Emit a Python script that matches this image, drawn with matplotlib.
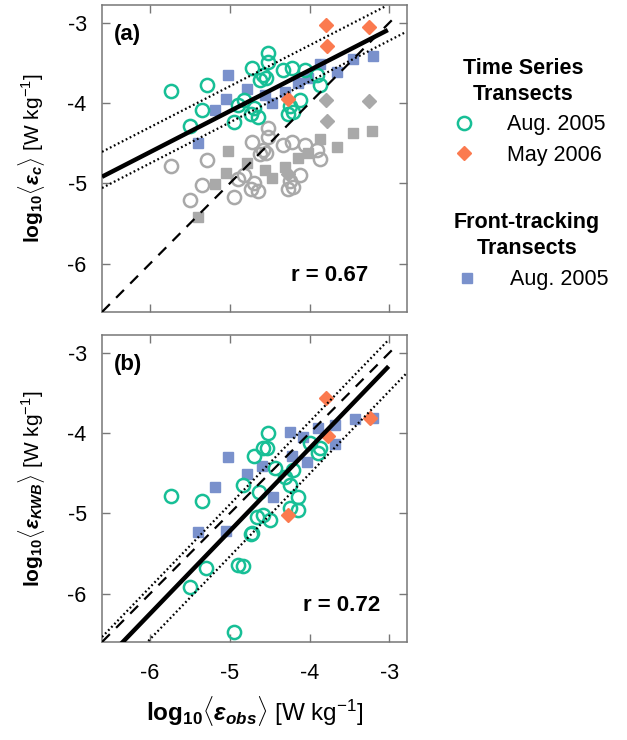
import numpy as np
import matplotlib
matplotlib.use("Agg")
import matplotlib.pyplot as plt
from matplotlib.lines import Line2D

plt.rcParams['font.family'] = ['Liberation Sans', 'DejaVu Sans']
plt.rcParams['axes.unicode_minus'] = False
plt.rcParams['mathtext.fontset'] = 'custom'
plt.rcParams['mathtext.rm'] = 'Liberation Sans'
plt.rcParams['mathtext.it'] = 'Liberation Sans:italic'
plt.rcParams['mathtext.bf'] = 'Liberation Sans:bold'
plt.rcParams['mathtext.bfit'] = 'Liberation Sans:bold:italic'

# ===== data (log10 values) =====
# panel (a): corrected model vs observed
ts_aug_x_a = [-5.74, -5.29, -5.35, -5.50, -4.95, -4.72, -4.52, -4.52, -4.58, -4.62,
              -4.55, -4.90, -4.82, -4.70, -4.64, -4.33, -4.22, -4.06, -3.91, -3.87,
              -4.24, -4.21, -4.12, -4.27, -4.74]
ts_aug_y_a = [-3.85, -3.78, -4.09, -4.28, -4.24, -3.56, -3.38, -3.49, -3.65, -3.71,
              -3.69, -4.02, -3.96, -4.06, -4.17, -3.59, -3.56, -3.59, -3.65, -3.77,
              -4.04, -4.11, -3.96, -4.14, -4.14]
ts_may_x_a = [-3.80, -3.26, -3.78, -4.27]
ts_may_y_a = [-3.03, -3.05, -3.29, -3.95]
ft_aug_x_a = [-5.02, -4.79, -5.05, -5.19, -5.40, -3.46, -3.20, -3.66, -3.87, -4.02,
              -4.47, -4.14, -4.31, -4.56]
ft_aug_y_a = [-3.65, -3.82, -3.95, -4.09, -4.50, -3.45, -3.41, -3.62, -3.52, -3.69,
              -4.00, -3.75, -3.86, -3.90]

# panel (a): uncorrected model (grey)
raw_circ_x = [-5.74, -5.29, -5.35, -5.50, -4.95, -4.72, -4.52, -4.52, -4.58, -4.62,
              -4.55, -4.90, -4.82, -4.70, -4.64, -4.33, -4.22, -4.06, -3.91, -3.87,
              -4.24, -4.21, -4.12, -4.27, -4.74]
raw_circ_y = [-4.78, -4.71, -5.02, -5.21, -5.17, -4.49, -4.31, -4.42, -4.58, -4.64,
              -4.62, -4.95, -4.89, -4.99, -5.10, -4.52, -4.49, -4.52, -4.58, -4.70,
              -4.97, -5.04, -4.89, -5.07, -5.07]
raw_diam_x = [-3.80, -3.26, -3.78, -4.27]
raw_diam_y = [-3.96, -3.98, -4.22, -4.88]
raw_sq_x = [-5.02, -4.79, -5.05, -5.19, -5.40, -3.46, -3.22, -3.66, -3.87, -4.02,
            -4.47, -4.14, -4.31, -4.56]
raw_sq_y = [-4.60, -4.75, -4.87, -5.01, -5.42, -4.37, -4.35, -4.55, -4.45, -4.62,
            -4.93, -4.68, -4.79, -4.83]

# panel (b): KWB model vs observed
ts_aug_x_b = [-5.73, -5.35, -4.52, -4.58, -4.70, -4.84, -4.63, -4.66, -4.73, -5.30,
              -5.50, -4.90, -4.84, -4.95, -4.00, -3.87, -3.90, -4.21, -4.31, -4.43,
              -4.24, -4.14, -4.14, -4.24, -4.58, -4.49, -4.72, -4.53]
ts_aug_y_b = [-4.78, -4.85, -4.00, -4.19, -4.28, -4.65, -4.73, -5.04, -5.26, -5.68,
              -5.91, -5.64, -5.66, -6.48, -4.12, -4.18, -4.25, -4.46, -4.55, -4.43,
              -4.65, -4.80, -4.96, -4.93, -5.02, -5.08, -5.24, -4.18]
ts_may_x_b = [-3.80, -3.24, -3.77, -4.27]
ts_may_y_b = [-3.56, -3.81, -4.04, -5.02]
ft_aug_x_b = [-5.02, -4.59, -4.79, -5.19, -5.40, -5.05, -3.43, -3.20, -3.68, -3.90,
              -4.24, -4.08, -3.68, -4.22, -4.03, -4.46]
ft_aug_y_b = [-4.30, -4.41, -4.51, -4.67, -5.23, -5.22, -3.83, -3.81, -3.90, -3.94,
              -3.99, -4.05, -4.13, -4.28, -4.36, -4.80]

r_a = 0.67
r_b = 0.72

# fit lines: (slope, x0, y0, x_end)
fit_a = {'fit': (0.51, -6.585, -4.91, -3.02),
         'upper': (0.51, -6.585, -4.60, -3.04),
         'lower': (0.51, -6.585, -5.05, -2.79)}
fit_b = {'fit': (1.03, -3.01, -3.17, -3.01),
         'upper': (1.03, -3.02, -2.85, -3.02),
         'lower': (1.03, -2.79, -3.26, -2.79)}

TEAL = '#17bf96'
ORANGE = '#fb7a4f'
BLUE = '#7a91cc'
GREY = '#a9a9a9'
LIM = (-6.6, -2.78)


def draw_fit(ax, fits):
    for key, (m, x0, y0, xe) in fits.items():
        xs = np.array([LIM[0], xe])
        ys = y0 + m * (xs - x0)
        if key == 'fit':
            ax.plot(xs, ys, color='black', lw=3.2, zorder=5, solid_capstyle='butt')
        else:
            ax.plot(xs, ys, color='black', lw=1.6, ls=(0, (0.8, 1.2)), zorder=5)
    ax.plot([LIM[0], -2.9], [LIM[0], -2.9], color='black', lw=1.6,
            ls=(0, (5, 4)), zorder=5)


def style_axes(ax):
    ax.set_xlim(LIM)
    ax.set_ylim(LIM)
    ax.set_xticks([-6, -5, -4, -3])
    ax.set_yticks([-6, -5, -4, -3])
    ax.tick_params(direction='in', top=True, right=True, length=6, width=1,
                   color='#777777', labelsize=15.5)
    ax.tick_params(axis='y', pad=11)
    ax.tick_params(axis='x', pad=15)
    for s in ax.spines.values():
        s.set_color('#777777')
        s.set_linewidth(1.1)


fig = plt.figure(figsize=(6.27, 7.40), dpi=100)
ax_a = fig.add_axes([0.1627, 0.5784, 0.4864, 0.4149])
ax_b = fig.add_axes([0.1627, 0.1324, 0.4864, 0.4149])

# ----- panel (a) -----
ax_a.plot(raw_circ_x, raw_circ_y, 'o', ms=9.5, mfc='none', mec=GREY, mew=1.8, zorder=2)
ax_a.plot(raw_sq_x, raw_sq_y, 's', ms=7.5, color=GREY, zorder=2)
ax_a.plot(raw_diam_x, raw_diam_y, 'D', ms=7.5, color=GREY, zorder=2)
draw_fit(ax_a, fit_a)
ax_a.plot(ft_aug_x_a, ft_aug_y_a, 's', ms=7.5, color=BLUE, zorder=3)
ax_a.plot(ts_aug_x_a, ts_aug_y_a, 'o', ms=9.5, mfc='none', mec=TEAL, mew=1.8, zorder=4)
ax_a.plot(ts_may_x_a, ts_may_y_a, 'D', ms=7.5, color=ORANGE, zorder=4)
style_axes(ax_a)
ax_a.tick_params(labelbottom=False)
ax_a.text(0.04, 0.905, '(a)', transform=ax_a.transAxes, fontsize=16,
          fontweight='bold', va='center')
ax_a.text(0.62, 0.12, 'r = %.2f' % r_a, transform=ax_a.transAxes, fontsize=16,
          fontweight='bold', va='center')
ax_a.set_ylabel(r'$\mathbf{log_{10}}\langle\mathbfit{\varepsilon_{c}}\rangle$ [W kg$^{-1}$]',
                fontsize=15, labelpad=15)

# ----- panel (b) -----
draw_fit(ax_b, fit_b)
ax_b.plot(ft_aug_x_b, ft_aug_y_b, 's', ms=7.5, color=BLUE, zorder=3)
ax_b.plot(ts_aug_x_b, ts_aug_y_b, 'o', ms=9.5, mfc='none', mec=TEAL, mew=1.8, zorder=4)
ax_b.plot(ts_may_x_b, ts_may_y_b, 'D', ms=7.5, color=ORANGE, zorder=4)
style_axes(ax_b)
ax_b.text(0.04, 0.905, '(b)', transform=ax_b.transAxes, fontsize=16,
          fontweight='bold', va='center')
ax_b.text(0.66, 0.12, 'r = %.2f' % r_b, transform=ax_b.transAxes, fontsize=16,
          fontweight='bold', va='center')
ax_b.set_ylabel(r'$\mathbf{log_{10}}\langle\mathbfit{\varepsilon_{KWB}}\rangle$ [W kg$^{-1}$]',
                fontsize=15, labelpad=15)
ax_b.set_xlabel(r'$\mathbf{log_{10}}\langle\mathbfit{\varepsilon_{obs}}\rangle$ [W kg$^{-1}$]',
                fontsize=17.5, labelpad=7)

# ----- legends -----
h_ts = [Line2D([], [], ls='none', marker='o', ms=9.5, mfc='none', mec=TEAL, mew=1.8),
        Line2D([], [], ls='none', marker='D', ms=7.5, color=ORANGE)]
leg1 = fig.legend(h_ts, ['Aug. 2005', 'May 2006'], loc='upper center',
                  bbox_to_anchor=(0.835, 0.948), frameon=False, fontsize=15.5,
                  title='Time Series\nTransects', handletextpad=1.0,
                  labelspacing=0.45)
leg1.get_title().set_fontweight('bold')
leg1.get_title().set_fontsize(15.5)
leg1.get_title().set_multialignment('center')
leg1.get_title().set_linespacing(1.3)
h_ft = [Line2D([], [], ls='none', marker='s', ms=7.5, color=BLUE)]
leg2 = fig.legend(h_ft, ['Aug. 2005'], loc='upper center',
                  bbox_to_anchor=(0.84, 0.74), frameon=False, fontsize=15.5,
                  title='Front-tracking\nTransects', handletextpad=1.0)
leg2.get_title().set_fontweight('bold')
leg2.get_title().set_fontsize(15.5)
leg2.get_title().set_multialignment('center')
leg2.get_title().set_linespacing(1.3)

fig.savefig('out.png', dpi=100)
